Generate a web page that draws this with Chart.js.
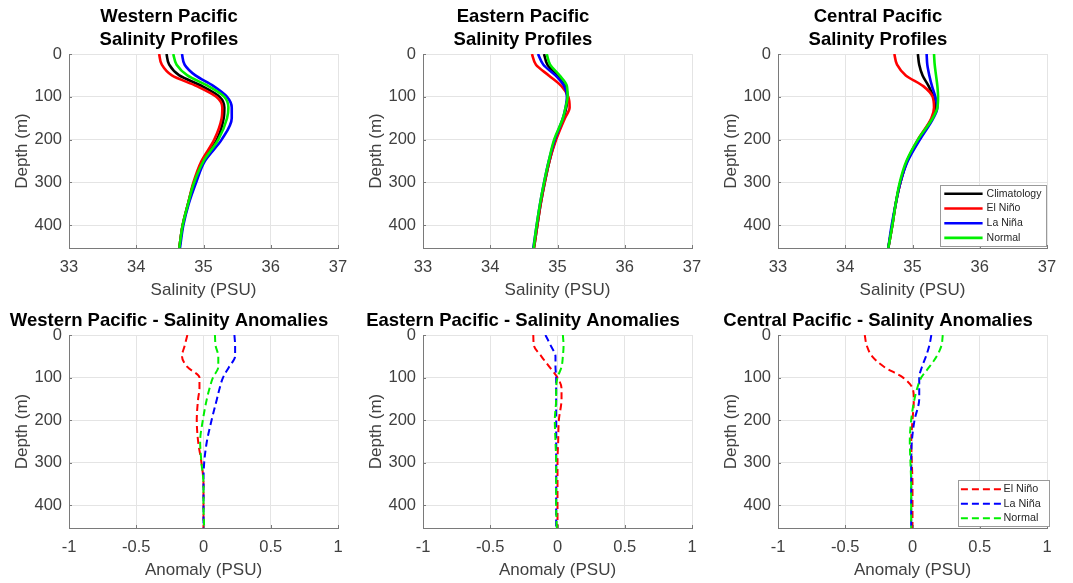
<!DOCTYPE html>
<html><head><meta charset="utf-8">
<script src="https://cdn.jsdelivr.net/npm/chart.js@4.4.1/dist/chart.umd.min.js"></script>
<style>
html,body{margin:0;padding:0;background:#fff;overflow:hidden;width:1073px;height:583px;position:relative;}
canvas{position:absolute;}
</style></head><body>
<canvas id="c0" width="407" height="306" style="left:0px;top:0px"></canvas>
<canvas id="c1" width="407" height="306" style="left:354px;top:0px"></canvas>
<canvas id="c2" width="407" height="306" style="left:709px;top:0px"></canvas>
<canvas id="c3" width="407" height="287" style="left:0px;top:299px"></canvas>
<canvas id="c4" width="407" height="287" style="left:354px;top:299px"></canvas>
<canvas id="c5" width="407" height="287" style="left:709px;top:299px"></canvas>
<script>
// ---------------- data ----------------
const depths = [0, 25, 50, 75, 100, 125, 150, 200, 250, 300, 350, 400, 453];

const salinityTicks = [33, 34, 35, 36, 37];
const anomalyTicks = [-1, -0.5, 0, 0.5, 1];
const depthTicks = [0, 100, 200, 300, 400];

const westClim   = [34.45, 34.49, 34.64, 34.98, 35.24, 35.31, 35.30, 35.20, 34.99, 34.86, 34.77, 34.69, 34.64];
const westNino   = [34.34, 34.38, 34.53, 34.90, 35.19, 35.28, 35.27, 35.16, 34.97, 34.85, 34.77, 34.69, 34.64];
const westNina   = [34.68, 34.72, 34.88, 35.15, 35.35, 35.42, 35.42, 35.27, 35.02, 34.89, 34.78, 34.70, 34.65];
const westNormal = [34.55, 34.60, 34.76, 35.07, 35.31, 35.37, 35.35, 35.22, 35.00, 34.86, 34.77, 34.69, 34.64];

const eastClim   = [34.80, 34.85, 34.99, 35.11, 35.15, 35.13, 35.09, 34.97, 34.88, 34.81, 34.75, 34.70, 34.65];
const eastNino   = [34.62, 34.68, 34.87, 35.06, 35.16, 35.18, 35.11, 34.98, 34.88, 34.81, 34.75, 34.70, 34.65];
const eastNina   = [34.71, 34.79, 34.97, 35.10, 35.14, 35.12, 35.08, 34.96, 34.87, 34.80, 34.74, 34.69, 34.64];
const eastNormal = [34.84, 34.89, 35.03, 35.14, 35.15, 35.12, 35.08, 34.95, 34.87, 34.80, 34.74, 34.69, 34.645];

const centClim   = [35.08, 35.10, 35.15, 35.24, 35.31, 35.34, 35.29, 35.09, 34.92, 34.82, 34.75, 34.70, 34.64];
const centNino   = [34.73, 34.77, 34.90, 35.16, 35.30, 35.32, 35.28, 35.08, 34.92, 34.82, 34.75, 34.70, 34.64];
const centNina   = [35.21, 35.22, 35.25, 35.29, 35.34, 35.37, 35.31, 35.11, 34.93, 34.82, 34.75, 34.69, 34.64];
const centNormal = [35.32, 35.33, 35.35, 35.37, 35.38, 35.37, 35.30, 35.08, 34.91, 34.81, 34.75, 34.70, 34.64];

const westAnomNino   = [-0.12, -0.14, -0.16, -0.12, -0.03, -0.03, -0.04, -0.05, -0.04, -0.015, 0, 0, 0];
const westAnomNina   = [0.23, 0.235, 0.235, 0.19, 0.145, 0.12, 0.10, 0.06, 0.025, 0.005, 0, 0, 0];
const westAnomNormal = [0.085, 0.09, 0.11, 0.11, 0.07, 0.045, 0.025, -0.005, -0.025, -0.015, 0, 0, 0.005];

const eastAnomNino   = [-0.18, -0.175, -0.12, -0.06, 0.0, 0.03, 0.03, 0.01, 0.005, 0, 0, 0, 0];
const eastAnomNina   = [-0.09, -0.05, -0.015, -0.015, -0.01, -0.01, -0.01, -0.01, -0.01, -0.01, -0.01, -0.01, -0.01];
const eastAnomNormal = [0.04, 0.045, 0.04, 0.03, 0.0, -0.01, -0.01, -0.02, -0.015, -0.01, -0.01, -0.01, -0.005];

const centAnomNino   = [-0.355, -0.34, -0.30, -0.21, -0.07, 0.0, 0.01, 0.0, -0.01, -0.005, 0, 0, 0];
const centAnomNina   = [0.14, 0.125, 0.10, 0.07, 0.05, 0.05, 0.05, 0.015, -0.005, -0.01, -0.01, -0.01, -0.01];
const centAnomNormal = [0.225, 0.215, 0.18, 0.125, 0.065, 0.035, 0.015, -0.01, -0.02, -0.015, -0.01, -0.01, -0.01];

// ---------------- styling ----------------
const FONT = "'Liberation Sans', Arial, Helvetica, sans-serif";
const C_BLACK = '#000000', C_RED = '#ff0000', C_BLUE = '#0000ff', C_GREEN = '#00f000';
const AXIS = '#7a7a7a', GRID = '#e4e4e4', TXT = '#404040';

const insideTicks = {
  id: 'insideTicks',
  afterDatasetsDraw(chart) {
    const {ctx, chartArea: a, scales: {x, y}} = chart;
    ctx.save();
    ctx.strokeStyle = AXIS; ctx.lineWidth = 1;
    ctx.beginPath();
    x.ticks.forEach(t => { const px = Math.round(x.getPixelForValue(t.value)) + 0.5; ctx.moveTo(px, a.bottom); ctx.lineTo(px, a.bottom - 3); });
    y.ticks.forEach(t => { const py = Math.round(y.getPixelForValue(t.value)) + 0.5; ctx.moveTo(a.left, py); ctx.lineTo(a.left + 3, py); });
    ctx.stroke();
    ctx.restore();
  }
};

const boxLegend = {
  id: 'boxLegend',
  afterDraw(chart, args, o) {
    if (!o || !o.show) return;
    const {ctx, chartArea: a} = chart;
    const right = a.right - o.insetRight, bottom = a.bottom - o.insetBottom;
    const left = right - o.width, top = bottom - o.height;
    ctx.save();
    ctx.fillStyle = '#ffffff';
    ctx.fillRect(left, top, o.width, o.height);
    ctx.strokeStyle = '#9a9a9a'; ctx.lineWidth = 1;
    ctx.strokeRect(Math.round(left) + 0.5, Math.round(top) + 0.5, Math.round(o.width), Math.round(o.height));
    const ds = chart.data.datasets;
    ds.forEach((d, i) => {
      const yy = top + o.rowStart + i * o.rowStep;
      ctx.beginPath();
      ctx.strokeStyle = d.borderColor; ctx.lineWidth = d.borderWidth;
      ctx.setLineDash(d.borderDash || []);
      ctx.moveTo(left + o.lineX0, yy); ctx.lineTo(left + o.lineX0 + o.lineLen, yy);
      ctx.stroke();
      ctx.setLineDash([]);
      ctx.fillStyle = '#262626';
      ctx.font = o.fontSize + 'px ' + FONT;
      ctx.textBaseline = 'middle'; ctx.textAlign = 'left';
      ctx.fillText(d.label, left + o.textX, yy);
    });
    ctx.restore();
  }
};

function makeChart(id, cfg) {
  const datasets = cfg.series.map((s, i) => ({
    label: s.label,
    data: depths.map((d, k) => ({x: s.values[k], y: d})),
    borderColor: s.color, backgroundColor: s.color,
    borderWidth: cfg.dashed ? 2 : 2.6,
    borderDash: cfg.dashed ? [7, 4] : [],
    pointRadius: 0, pointHoverRadius: 0, fill: false,
    cubicInterpolationMode: 'monotone',
    order: cfg.series.length - i
  }));
  const xt = cfg.xTicks;
  return new Chart(document.getElementById(id), {
    type: 'line',
    data: {datasets},
    options: {
      responsive: false, animation: false, indexAxis: 'y',
      layout: {padding: {left: 0, right: 69, top: 0, bottom: 0}},
      plugins: {
        legend: {display: false}, tooltip: {enabled: false},
        title: {display: true, text: cfg.title, color: '#000',
          font: {family: FONT, size: 18.5, weight: 'bold', lineHeight: 23.4 / 18.5},
          padding: {top: cfg.titlePadTop, bottom: cfg.titlePadBottom}},
        boxLegend: cfg.legend || {show: false}
      },
      scales: {
        x: {
          type: 'linear', position: 'bottom', min: xt[0], max: xt[xt.length - 1],
          afterBuildTicks(s) { s.ticks = xt.map(v => ({value: v})); },
          ticks: {color: TXT, font: {family: FONT, size: 16.5}, padding: 9.8, maxRotation: 0, autoSkip: false,
            callback: v => String(v)},
          grid: {color: GRID, drawTicks: false, lineWidth: 1},
          border: {display: true, color: AXIS, width: 1},
          title: {display: true, text: cfg.xLabel, color: TXT, font: {family: FONT, size: 17}, padding: {top: 0, bottom: 5.5}},
          afterFit(s) { s.height = 58; }
        },
        y: {
          type: 'linear', position: 'left', reverse: true, min: 0, max: 453,
          afterBuildTicks(s) { s.ticks = depthTicks.map(v => ({value: v})); },
          ticks: {color: TXT, font: {family: FONT, size: 16.5}, padding: 7, autoSkip: false, callback: v => String(v)},
          grid: {color: GRID, drawTicks: false, lineWidth: 1},
          border: {display: true, color: AXIS, width: 1},
          title: {display: true, text: 'Depth (m)', color: TXT, font: {family: FONT, size: 17}, padding: {top: 11.8, bottom: 0}},
          afterFit(s) { s.width = 69; }
        }
      }
    },
    plugins: [insideTicks, boxLegend]
  });
}

const topLegend = {show: true, width: 106, height: 61, insetRight: 1, insetBottom: 2,
  rowStart: 8.8, rowStep: 14.7, lineX0: 4.3, lineLen: 38.3, textX: 46.6, fontSize: 10.5};
const botLegend = {show: true, width: 91, height: 46, insetRight: -1.5, insetBottom: 2,
  rowStart: 9.3, rowStep: 14.5, lineX0: 3.4, lineLen: 40, textX: 46, fontSize: 10.8};

function profileSeries(c, n, a, m) {
  return [
    {label: 'Climatology', values: c, color: C_BLACK},
    {label: 'El Niño', values: n, color: C_RED},
    {label: 'La Niña', values: a, color: C_BLUE},
    {label: 'Normal', values: m, color: C_GREEN}
  ];
}
function anomalySeries(n, a, m) {
  return [
    {label: 'El Niño', values: n, color: C_RED},
    {label: 'La Niña', values: a, color: C_BLUE},
    {label: 'Normal', values: m, color: C_GREEN}
  ];
}

const topTitle = {titlePadTop: 5.1, titlePadBottom: 2.1, xTicks: salinityTicks, xLabel: 'Salinity (PSU)', dashed: false};
const botTitle = {titlePadTop: 10.3, titlePadBottom: 2.3, xTicks: anomalyTicks, xLabel: 'Anomaly (PSU)', dashed: true};

makeChart('c0', Object.assign({}, topTitle, {title: ['Western Pacific', 'Salinity Profiles'], series: profileSeries(westClim, westNino, westNina, westNormal)}));
makeChart('c1', Object.assign({}, topTitle, {title: ['Eastern Pacific', 'Salinity Profiles'], series: profileSeries(eastClim, eastNino, eastNina, eastNormal)}));
makeChart('c2', Object.assign({}, topTitle, {title: ['Central Pacific', 'Salinity Profiles'], series: profileSeries(centClim, centNino, centNina, centNormal), legend: topLegend}));
makeChart('c3', Object.assign({}, botTitle, {title: 'Western Pacific - Salinity Anomalies', series: anomalySeries(westAnomNino, westAnomNina, westAnomNormal)}));
makeChart('c4', Object.assign({}, botTitle, {title: 'Eastern Pacific - Salinity Anomalies', series: anomalySeries(eastAnomNino, eastAnomNina, eastAnomNormal)}));
makeChart('c5', Object.assign({}, botTitle, {title: 'Central Pacific - Salinity Anomalies', series: anomalySeries(centAnomNino, centAnomNina, centAnomNormal), legend: botLegend}));
</script>
</body></html>
